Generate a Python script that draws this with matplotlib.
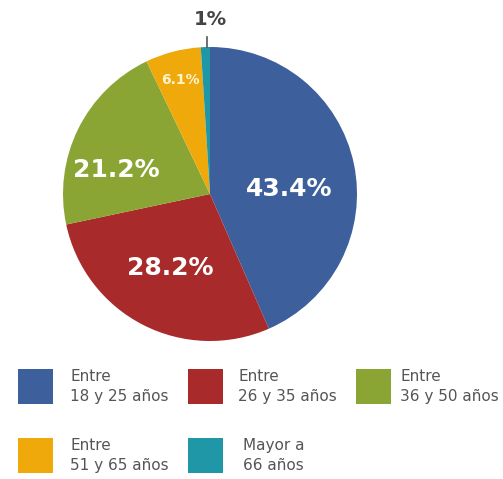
import matplotlib
matplotlib.use("Agg")
import matplotlib.pyplot as plt
from matplotlib.patches import Rectangle
import numpy as np

labels = ["Entre\n18 y 25 años", "Entre\n26 y 35 años", "Entre\n36 y 50 años",
          "Entre\n51 y 65 años", "Mayor a\n66 años"]
values = [43.4, 28.2, 21.2, 6.1, 1.0]
pct_text = ["43.4%", "28.2%", "21.2%", "6.1%", "1%"]
colors = ["#3D5F9C", "#A82A2B", "#8AA533", "#EFA90A", "#1F97A6"]

W, H = 503, 479
fig = plt.figure(figsize=(W / 100, H / 100), dpi=100)
fig.patch.set_facecolor("white")

cx, cy, r = 210, 194, 147
ax = fig.add_axes([(cx - r) / W, (H - cy - r) / H, 2 * r / W, 2 * r / H])
wedges, _ = ax.pie(values, colors=colors, startangle=90, counterclock=False,
                   radius=1.0, wedgeprops=dict(linewidth=0))
ax.set_xlim(-1, 1)
ax.set_ylim(-1, 1)
ax.set_aspect("equal")
ax.axis("off")

# label placement (radius, angle offset in degrees from wedge middle)
lab_r = [0.54, 0.57, 0.66, 0.80, 1.18]
lab_da = [-8, -1, 12, 0, 0]
lab_size = [18, 18, 18, 10, 14]
lab_col = ["white", "white", "white", "#FFF4D0", "#444444"]
for i, w in enumerate(wedges):
    mid = (w.theta1 + w.theta2) / 2 + lab_da[i]
    x = lab_r[i] * np.cos(np.radians(mid))
    y = lab_r[i] * np.sin(np.radians(mid))
    if i == 4:
        x = 0.0
        y = 1.12
        ax.plot([-0.02, -0.02], [1.0, 1.07], color="#555555", lw=1.2, clip_on=False)
        ax.text(x, y, pct_text[i], ha="center", va="bottom", fontsize=lab_size[i],
                fontweight="bold", color=lab_col[i], clip_on=False)
    else:
        ax.text(x, y, pct_text[i], ha="center", va="center", fontsize=lab_size[i],
                fontweight="bold", color=lab_col[i])

# legend (manual grid)
sq_x = [18, 188, 356, 18, 188]
sq_y = [369, 369, 369, 438, 438]
tx_x = [70, 238, 400, 70, 243]
sq = 35
for i in range(len(labels)):
    fig.patches.append(Rectangle((sq_x[i] / W, (H - sq_y[i] - sq) / H), sq / W, sq / H,
                                 transform=fig.transFigure, facecolor=colors[i],
                                 edgecolor="none"))
    fig.text(tx_x[i] / W, (H - sq_y[i] - sq / 2) / H, labels[i], ha="left", va="center",
             fontsize=11, color="#555555", linespacing=1.45)

fig.savefig("out.png", dpi=100, facecolor="white")
